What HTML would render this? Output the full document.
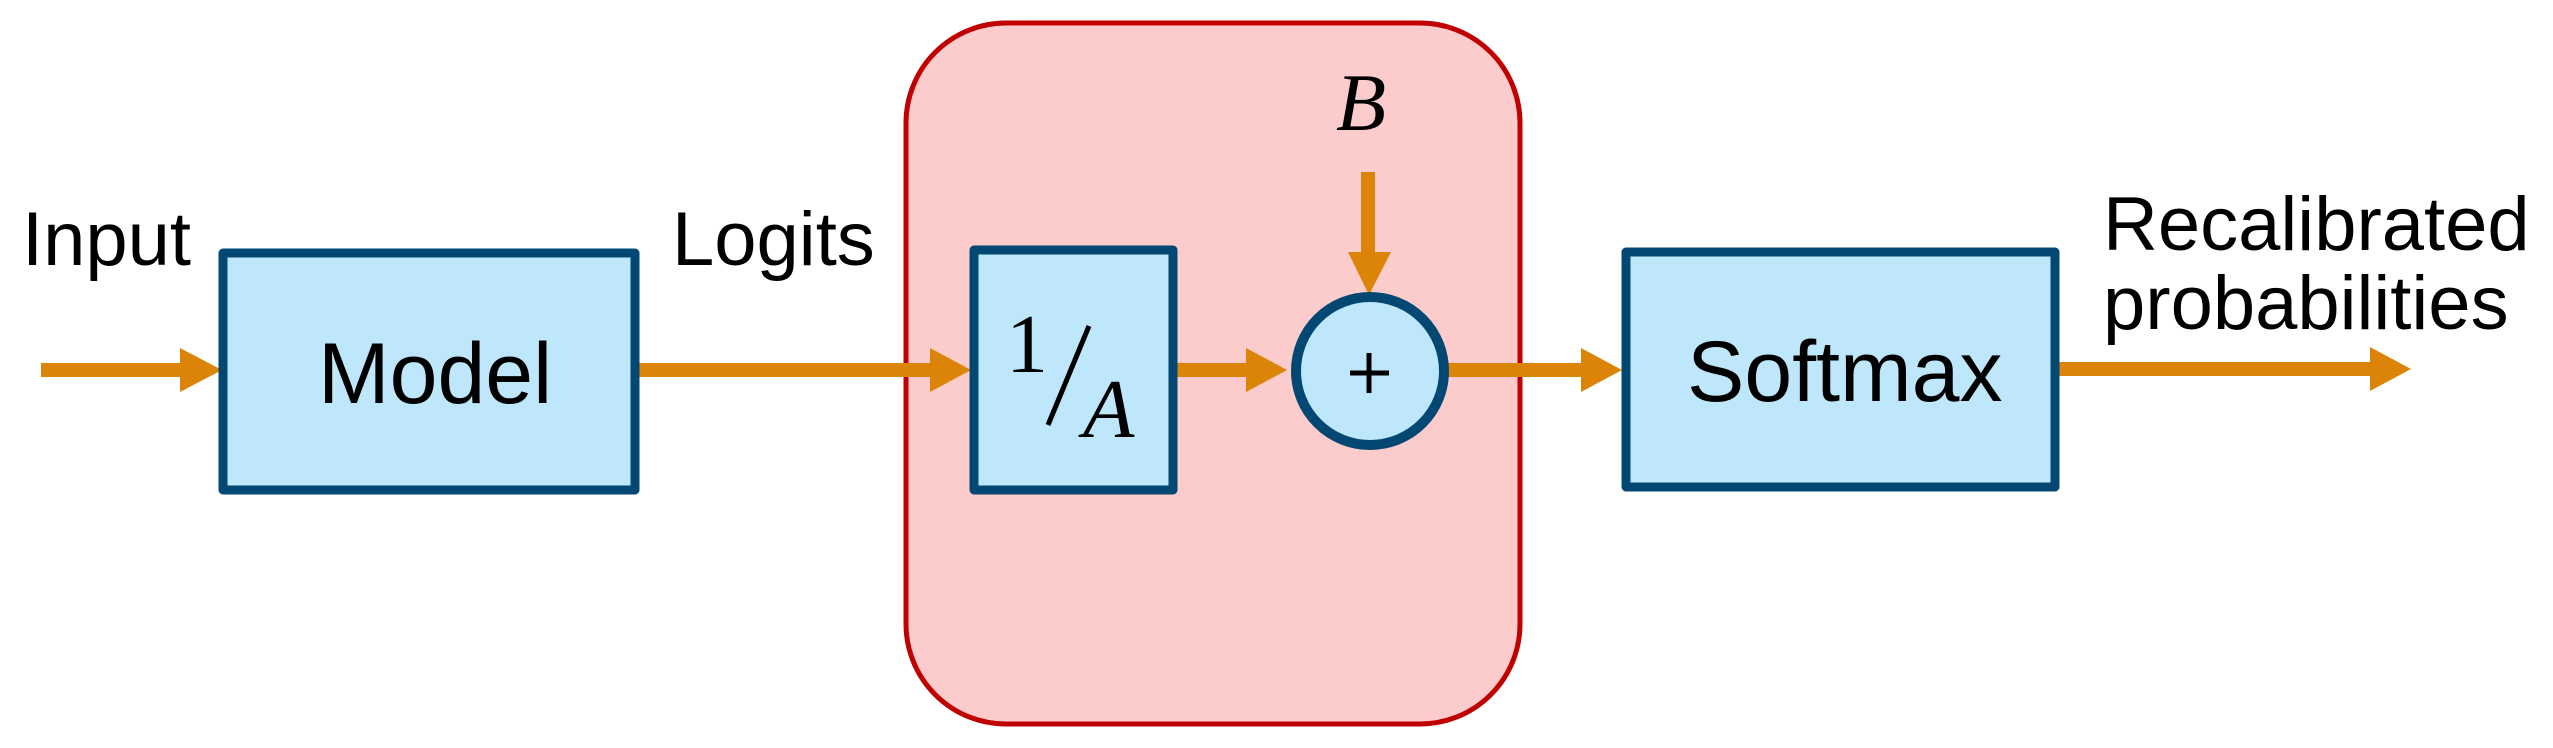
<!DOCTYPE html>
<html><head><meta charset="utf-8"><style>
html,body{margin:0;padding:0;background:#fff;}
svg{display:block;}
</style></head><body>
<svg width="2553" height="748" viewBox="0 0 2553 748" xmlns="http://www.w3.org/2000/svg">
<rect x="906" y="23" width="614" height="701" rx="100" ry="100" fill="#fccbcb" stroke="#c00000" stroke-width="5"/>
<g fill="#db8408">
<rect x="41" y="363" width="142" height="14"/>
<polygon points="180,348 222,370 180,392"/>
<rect x="637" y="363" width="296" height="14"/>
<polygon points="930,348 971,370 930,392"/>
<rect x="1177" y="363" width="71" height="14"/>
<polygon points="1246,348 1287,370 1246,392"/>
<rect x="1361" y="172" width="14" height="82"/>
<polygon points="1348,252 1391,252 1369,295"/>
<rect x="1448" y="363" width="135" height="14"/>
<polygon points="1581,348 1622,370 1581,392"/>
<rect x="2059" y="362" width="313" height="14"/>
<polygon points="2370,347 2411,369 2370,391"/>
</g>
<g fill="#bee7fb" stroke="#034872" stroke-width="9" stroke-linejoin="round">
<rect x="223" y="253" width="412" height="237"/>
<rect x="974" y="250" width="199" height="240"/>
<rect x="1626" y="252" width="429" height="235"/>
<circle cx="1370" cy="371" r="74" stroke-width="10"/>
</g>
<g font-family="Liberation Sans, sans-serif" fill="#000">
<text x="22" y="265" font-size="76">Input</text>
<text x="672" y="265" font-size="76">Logits</text>
<text x="318" y="403" font-size="86">Model</text>
<text x="1687" y="401" font-size="86">Softmax</text>
<text x="2103" y="250" font-size="76">Recalibrated</text>
<text x="2103" y="329" font-size="76">probabilities</text>
</g>
<g stroke="#000" stroke-width="5">
<line x1="1350" y1="373" x2="1389" y2="373"/>
<line x1="1369" y1="353" x2="1369" y2="393"/>
</g>
<g font-family="Liberation Serif, serif" fill="#000">
<text x="1006" y="372" font-size="84">1</text>
<line x1="1089" y1="326" x2="1048" y2="425" stroke="#000" stroke-width="5"/>
<text x="1083" y="437" font-size="84" font-style="italic">A</text>
<text x="1336" y="130" font-size="82" font-style="italic">B</text>
</g>
</svg>
</body></html>
